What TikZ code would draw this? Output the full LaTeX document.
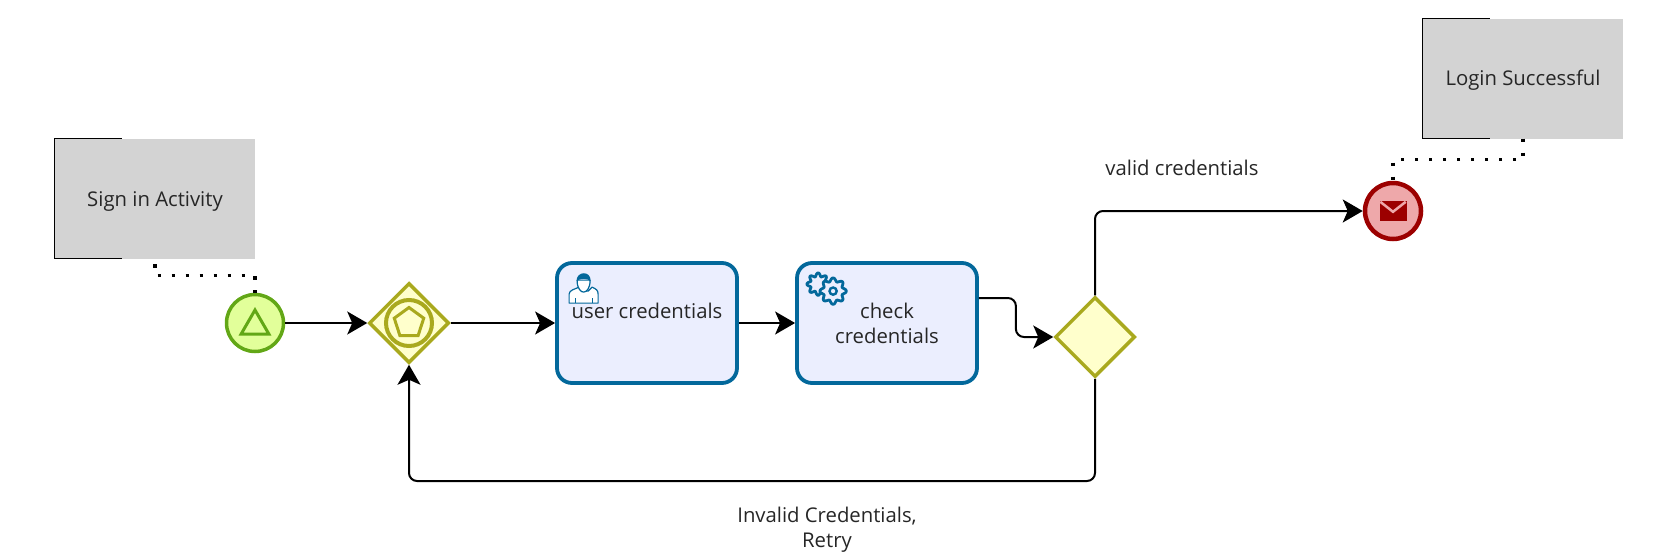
\documentclass[tikz,border=0pt]{standalone}
\usepackage{fontspec}
\setmainfont{Open Sans}
\usetikzlibrary{arrows.meta, positioning, shapes.geometric}

\definecolor{startline}{HTML}{62A716}
\definecolor{startfill}{HTML}{E2FF9A}
\definecolor{gateline}{HTML}{A9A91E}
\definecolor{gatefill}{HTML}{FFFFCC}
\definecolor{taskline}{HTML}{03689B}
\definecolor{taskfill}{HTML}{EBEEFE}
\definecolor{stopline}{HTML}{9C0000}
\definecolor{stopfill}{HTML}{EEA8AA}
\definecolor{notefill}{HTML}{D3D3D3}

\tikzset{
  every node/.style={font=\fontsize{20.3}{25}\selectfont, align=center, text=black!85},
  startev/.style={circle, draw=startline, fill=startfill, line width=3.5pt, minimum size=57pt, inner sep=0pt},
  stopev/.style={circle, draw=stopline, fill=stopfill, line width=4.5pt, minimum size=56pt, inner sep=0pt},
  gateway/.style={diamond, draw=gateline, fill=gatefill, line width=3.5pt, minimum size=80pt, inner sep=0pt},
  task/.style={rectangle, rounded corners=15pt, draw=taskline, fill=taskfill, line width=3.8pt, minimum width=180pt, minimum height=120pt, inner sep=0pt},
  note/.style={rectangle, fill=notefill, minimum width=200pt, minimum height=120pt, inner sep=0pt},
  bracket/.style={line width=1pt, black},
  flow/.style={line width=2pt, black},
  assoc/.style={line width=3.5pt, black, dash pattern=on 3.5pt off 10.5pt},
  iconline/.style={draw=taskline, line width=1.2pt, line join=round}
}

\begin{document}
\begin{tikzpicture}[>={Stealth[length=20pt,width=23pt,inset=5pt]},x=1pt,y=1pt]
\useasboundingbox (0,0) rectangle (1666,-557);
%Nodes
\node (start) [startev] at (255,-323) {};
\node (gw1) [node distance=154pt, gateway, right of= start] {};
\node (task1) [node distance=238pt, task, right of= gw1] {user credentials\\~};
\node (task2) [node distance=240pt, task, right of= task1] {check\\credentials};
\node (gw2) [node distance=208pt, gateway, right of= task2, yshift=-14pt] {};
\node (stop) [stopev] at (1393,-211) {};
\node (signin) [note] at (155,-198.5) {\raisebox{-7.5pt}[0pt][0pt]{Sign in Activity}};
\node (login) [note] at (1523,-78.5) {\raisebox{-6.5pt}[0pt][0pt]{Login Successful}};
\node (validlbl) at (1182,-168) {valid credentials};
\node (retrylbl) at (827,-530) {Invalid Credentials,\\Retry};

%Markers
\node (gw1ring) [circle, draw=gateline, line width=4pt, minimum size=46pt, inner sep=0pt] at (gw1) {};
\node (gw1penta) [regular polygon, regular polygon sides=5, draw=gateline, line width=3pt, minimum size=31pt, inner sep=0pt] at (gw1) {};
\node (starttri) [regular polygon, regular polygon sides=3, draw=startline, line width=3pt, minimum size=32pt, inner sep=0pt, yshift=-3pt] at (start) {};
\node (envelope) [rectangle, fill=stopline, minimum width=27pt, minimum height=20pt, inner sep=0pt] at (stop) {};
\draw[stopfill, line width=2.5pt] ([xshift=1pt,yshift=-1pt]envelope.north west) -- ([yshift=-11pt]envelope.north) -- ([xshift=-1pt,yshift=-1pt]envelope.north east);

%User icon
\begin{scope}[shift={(task1.north west)}]
\draw[iconline, fill=white] (14,-42) -- (14,-33) .. controls (14,-29) and (20,-28) .. (24,-26) -- (28,-30) -- (33,-30) -- (37,-26) .. controls (41,-28) and (43,-29) .. (43,-33) -- (43,-42) -- cycle;
\draw[iconline, fill=white] (22,-19) .. controls (22,-28) and (26,-31) .. (28.5,-31) .. controls (31,-31) and (35,-28) .. (35,-19) -- cycle;
\fill[taskline] (21.5,-20) .. controls (21,-10) and (36,-9) .. (35.5,-20) .. controls (32,-17) and (25,-17) .. (21.5,-20) -- cycle;
\draw[iconline] (20,-37) -- (20,-42) (37,-37) -- (37,-42);
\end{scope}

%Gear icon
\foreach \gx/\gy/\gr in {23/-23/9.5, 38/-30/11.5}
  \draw[shift={(task2.north west)}, shift={(\gx,\gy)}, taskline, line width=2.8pt, fill=taskfill, line join=round]
    plot[domain=0:360, samples=145] (\x:{\gr+1.7*cos(8*\x)}) -- cycle;
\draw[shift={(task2.north west)}, taskline, line width=2.4pt] (38,-30) circle (3.6);

%Connections
\draw[assoc, dash phase=8.5pt] (signin.south) -- ++(0,-17) -| (start.north);
\draw[assoc] (login.south) -- ++(0,-21) -| (stop.north);
\path[flow,->]
(start) edge (gw1)
(gw1) edge (task1)
(task1) edge (task2)
;
\draw[flow,->,rounded corners=8pt] ([yshift=25pt]task2.east) -- ++(37,0) |- (gw2.west);
\draw[flow,->,rounded corners=8pt] (gw2.north) |- (stop.west);
\coordinate (retry) at (409,-481);
\draw[flow,->,rounded corners=8pt] (gw2.south) |- (retry) -- (gw1.south);

%Note brackets
\draw[bracket] ([xshift=67pt]signin.north west) -- (signin.north west) -- (signin.south west) -- ([xshift=67pt]signin.south west);
\draw[bracket] ([xshift=67pt]login.north west) -- (login.north west) -- (login.south west) -- ([xshift=67pt]login.south west);
\end{tikzpicture}
\end{document}
